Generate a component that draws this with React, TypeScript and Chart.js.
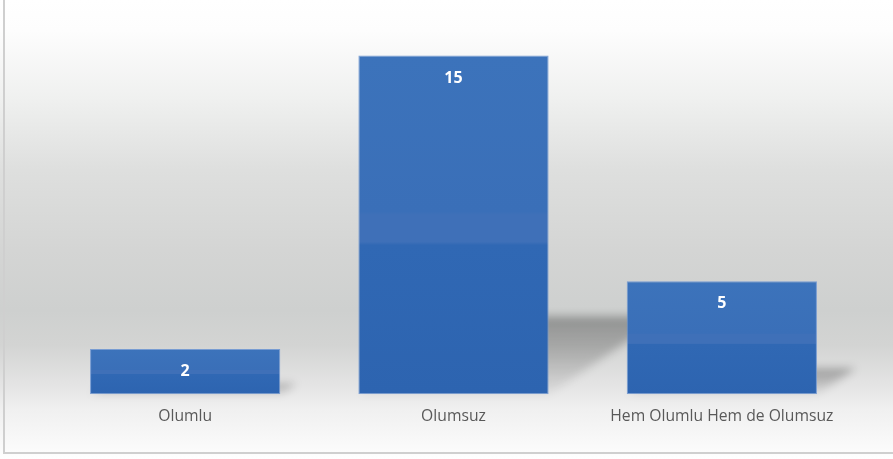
import React, { useEffect, useRef } from "react";
import { Chart, registerables } from "chart.js";

Chart.register(...registerables);

const categories: string[] = ["Olumlu", "Olumsuz", "Hem Olumlu Hem de Olumsuz"];
const values: number[] = [2, 15, 5];
const yMin = 0;
const yMax = 16;

const FONT = "'Open Sans', 'Liberation Sans', sans-serif";

const backgroundPlugin = {
  id: "bgPlugin",
  beforeDraw(chart: any) {
    const { ctx, width, height } = chart;
    ctx.save();
    const g = ctx.createLinearGradient(0, 0, 0, height);
    const stops: [number, string][] = [
      [0, "#FFFFFF"],
      [30, "#FDFDFD"],
      [100, "#EFF0EF"],
      [170, "#DEDFDE"],
      [250, "#D4D5D4"],
      [310, "#CED0CF"],
      [345, "#D3D4D3"],
      [385, "#E4E4E4"],
      [410, "#F0F0F0"],
      [450, "#FBFBFB"],
      [459, "#FFFFFF"],
    ];
    stops.forEach(([y, c]) => g.addColorStop(Math.min(1, y / height), c));
    ctx.fillStyle = g;
    ctx.fillRect(0, 0, width, height);
    ctx.fillStyle = "#CFCFCF";
    ctx.fillRect(3, 0, 2, 454);
    ctx.fillRect(3, 452, width - 3, 2);
    ctx.restore();
  },
};

const shadowPlugin = {
  id: "shadowPlugin",
  beforeDatasetsDraw(chart: any) {
    const { ctx } = chart;
    const meta = chart.getDatasetMeta(0);
    ctx.save();
    ctx.filter = "blur(4px)";
    meta.data.forEach((el: any) => {
      const L = el.x - el.width / 2;
      const R = el.x + el.width / 2;
      const base = el.base;
      const h = base - el.y;
      if (![L, R, base, h].every(Number.isFinite)) return;
      const sh = 0.23 * h;
      const dx = sh / 0.67;
      const g = ctx.createLinearGradient(0, base, 0, base - sh);
      g.addColorStop(0, "rgba(0,0,0,0.04)");
      g.addColorStop(0.5, "rgba(0,0,0,0.18)");
      g.addColorStop(1, "rgba(0,0,0,0.3)");
      ctx.fillStyle = g;
      ctx.beginPath();
      ctx.moveTo(L, base);
      ctx.lineTo(R, base);
      ctx.lineTo(R + dx, base - sh);
      ctx.lineTo(L + dx, base - sh);
      ctx.closePath();
      ctx.fill();
    });
    ctx.restore();
  },
};

const labelPlugin = {
  id: "labelPlugin",
  afterDatasetsDraw(chart: any) {
    const { ctx } = chart;
    const meta = chart.getDatasetMeta(0);
    ctx.save();
    ctx.fillStyle = "#FFFFFF";
    ctx.font = `bold 16px ${FONT}`;
    ctx.textAlign = "center";
    ctx.textBaseline = "middle";
    meta.data.forEach((el: any, i: number) => {
      ctx.fillText(String(values[i]), el.x, el.y + 22.5);
    });
    ctx.restore();
  },
};

export default function App() {
  const ref = useRef<HTMLCanvasElement | null>(null);

  useEffect(() => {
    document.body.style.margin = "0";
    const canvas = ref.current!;
    const chart = new Chart(canvas, {
      type: "bar",
      data: {
        labels: categories,
        datasets: [
          {
            data: values,
            backgroundColor: (c: any) => {
              const ch = c.chart;
              const ys = ch.scales && ch.scales.y;
              if (!ys || !c.parsed) return "#3069B4";
              const top = ys.getPixelForValue(c.parsed.y);
              const base = ys.getPixelForValue(0);
              if (!Number.isFinite(top) || !Number.isFinite(base) || top === base) return "#3069B4";
              const g = ch.ctx.createLinearGradient(0, top, 0, base);
              g.addColorStop(0, "#3C73BB");
              g.addColorStop(0.46, "#3A6FB8");
              g.addColorStop(0.47, "#3F70B8");
              g.addColorStop(0.55, "#3F70B8");
              g.addColorStop(0.56, "#3068B4");
              g.addColorStop(1, "#2D64B0");
              return g;
            },
            borderColor: "rgba(110,150,210,0.9)",
            borderWidth: 1,
            borderSkipped: false,
            categoryPercentage: 1,
            barPercentage: 0.709,
          },
        ],
      },
      options: {
        responsive: false,
        animation: false,
        layout: { padding: { left: 51, right: 37, top: 33, bottom: 20 } },
        plugins: {
          legend: { display: false },
          tooltip: { enabled: false },
        },
        scales: {
          x: {
            grid: { display: false, drawTicks: false },
            border: { display: false },
            ticks: {
              color: "#595959",
              font: { family: FONT, size: 15.7 },
              padding: 13,
              maxRotation: 0,
            },
          },
          y: {
            display: false,
            min: yMin,
            max: yMax,
          },
        },
      },
      plugins: [backgroundPlugin, shadowPlugin, labelPlugin],
    });
    return () => chart.destroy();
  }, []);

  return (
    <div style={{ width: 893, height: 459 }}>
      <canvas ref={ref} width={893} height={459} style={{ display: "block" }} />
    </div>
  );
}
